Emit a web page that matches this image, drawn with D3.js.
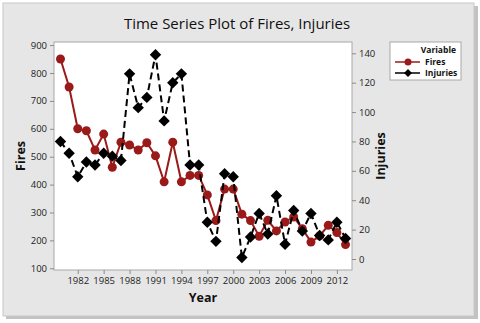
<!DOCTYPE html>
<html><head><meta charset="utf-8">
<script src="https://cdn.jsdelivr.net/npm/d3@7"></script>
<style>html,body{margin:0;padding:0;background:#fff;}svg{display:block;}</style>
</head><body>
<script>
const years = d3.range(1980, 2014);
const fires = [850,750,600,593,524,581,462,552,542,524,550,503,410,552,410,433,433,363,271,384,384,294,271,215,272,234,266,284,242,194,216,254,228,185];
const injuries = [80,72,56,66,64,72,70,67,126,103,110,139,94,120,126,64,64,25,12,58,56,1,15,31,17,43,10,33,19,31,16,13,25,14];
const xTicks = [1982,1985,1988,1991,1994,1997,2000,2003,2006,2009,2012];
const firesTicks = [100,200,300,400,500,600,700,800,900];
const injTicks = [0,20,40,60,80,100,120,140];
const seriesNames = ["Fires","Injuries"];

const W = 480, H = 323;
const font = "'Open Sans', 'Noto Sans', sans-serif";
const red = "#9a1a1a";
const svg = d3.select("body").append("svg").attr("width", W).attr("height", H);

// outer frame with shadow
svg.append("rect").attr("x",0).attr("y",0).attr("width",W).attr("height",H).attr("fill","#ffffff");
svg.append("rect").attr("x",6).attr("y",6).attr("width",472).attr("height",313).attr("fill","#9a9a9a").attr("opacity",0.6);
svg.append("rect").attr("x",3).attr("y",3).attr("width",471).attr("height",313).attr("fill","#e6e6e6").attr("stroke","#c8c8c8");

const L = 54, R = 352, T = 42, B = 270;
const x = d3.scaleLinear().domain([1979.25, 2013.75]).range([L, R]);
const yL = d3.scaleLinear().domain([100, 900]).range([268.3, 45.1]);
const yR = d3.scaleLinear().domain([0, 140]).range([259, 53.3]);

svg.append("rect").attr("x",L).attr("y",T).attr("width",R-L).attr("height",B-T).attr("fill","#fff").attr("stroke","#a8a8a8");

function styleAxis(g){
  g.select(".domain").remove();
  g.selectAll(".tick line").attr("stroke","#8a8a8a");
  g.selectAll(".tick text").attr("font-family",font).attr("font-size","9.5px").attr("fill","#222");
}
svg.append("g").attr("transform",`translate(0,${B})`)
  .call(d3.axisBottom(x).tickValues(xTicks).tickFormat(d3.format("d")).tickSize(4).tickPadding(3))
  .call(styleAxis);
svg.append("g").attr("transform",`translate(${L},0)`)
  .call(d3.axisLeft(yL).tickValues(firesTicks).tickSize(4).tickPadding(3))
  .call(styleAxis);
svg.append("g").attr("transform",`translate(${R},0)`)
  .call(d3.axisRight(yR).tickValues(injTicks).tickSize(4).tickPadding(3))
  .call(styleAxis);

// titles
svg.append("text").attr("x",237).attr("y",29).attr("text-anchor","middle")
  .attr("font-family",font).attr("font-size","15px").attr("fill","#111").text("Time Series Plot of Fires, Injuries");
svg.append("text").attr("x",203).attr("y",302).attr("text-anchor","middle")
  .attr("font-family",font).attr("font-size","12.5px").attr("font-weight","bold").attr("fill","#111").text("Year");
svg.append("text").attr("transform","translate(25,156) rotate(-90)").attr("text-anchor","middle")
  .attr("font-family",font).attr("font-size","12.5px").attr("font-weight","bold").attr("fill","#111").text("Fires");
svg.append("text").attr("transform","translate(385,156) rotate(-90)").attr("text-anchor","middle")
  .attr("font-family",font).attr("font-size","12.5px").attr("font-weight","bold").attr("fill","#111").text("Injuries");

svg.append("clipPath").attr("id","pc").append("rect").attr("x",L).attr("y",T).attr("width",R-L).attr("height",B-T);
const plot = svg.append("g").attr("clip-path","url(#pc)");

function diamondPath(s){ return `M0,${-s}L${s},0L0,${s}L${-s},0Z`; }

// Fires
plot.append("path").datum(years.map((y,i)=>[y,fires[i]]))
  .attr("fill","none").attr("stroke",red).attr("stroke-width",2)
  .attr("d", d3.line().x(d=>x(d[0])).y(d=>yL(d[1])));
plot.selectAll("circle.f").data(years.map((y,i)=>[y,fires[i]])).join("circle")
  .attr("cx",d=>x(d[0])).attr("cy",d=>yL(d[1])).attr("r",4.5).attr("fill",red);

// Injuries
plot.append("path").datum(years.map((y,i)=>[y,injuries[i]]))
  .attr("fill","none").attr("stroke","#000").attr("stroke-width",2).attr("stroke-dasharray","7,4")
  .attr("d", d3.line().x(d=>x(d[0])).y(d=>yR(d[1])));
plot.selectAll("path.i").data(years.map((y,i)=>[y,injuries[i]])).join("path")
  .attr("transform",d=>`translate(${x(d[0])},${yR(d[1])})`).attr("d",diamondPath(5.7)).attr("fill","#000");

// legend
const lg = svg.append("g");
lg.append("rect").attr("x",390).attr("y",42).attr("width",71).attr("height",38).attr("fill","#fff").attr("stroke","#a8a8a8");
lg.append("text").attr("x",456).attr("y",53).attr("text-anchor","end").attr("font-family",font)
  .attr("font-size","8.5px").attr("font-weight","bold").attr("fill","#111").text("Variable");
seriesNames.forEach((n,i)=>{
  const yy = 62 + i*11;
  lg.append("line").attr("x1",395).attr("x2",420).attr("y1",yy).attr("y2",yy)
    .attr("stroke", i===0?red:"#000").attr("stroke-width",1.5);
  if(i===0) lg.append("circle").attr("cx",408).attr("cy",yy).attr("r",3.5).attr("fill",red);
  else lg.append("path").attr("transform",`translate(408,${yy})`).attr("d",diamondPath(4)).attr("fill","#000");
  lg.append("text").attr("x",425).attr("y",yy+3).attr("font-family",font).attr("font-size","8.5px")
    .attr("font-weight","bold").attr("fill","#111").text(n);
});
</script>
</body></html>
